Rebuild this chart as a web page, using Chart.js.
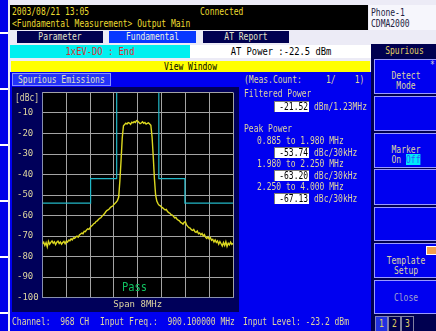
<!DOCTYPE html>
<html>
<head>
<meta charset="utf-8">
<script src="https://cdn.jsdelivr.net/npm/chart.js@4.4.1/dist/chart.umd.min.js"></script>
<style>
  html, body { margin: 0; padding: 0; }
  body { width: 436px; height: 331px; position: relative; overflow: hidden; background: #ecebf6; }
  .box { position: absolute; }
  .t { position: absolute; white-space: pre; font-family: 'DejaVu Sans Mono', monospace; font-size: 10px; line-height: 10px;
       transform: scaleX(0.8); transform-origin: 0 0; }
  .c { left: 0; right: 0; text-align: center; transform-origin: 50% 0; }
  .r { right: 1px; text-align: right; transform-origin: 100% 0; }
  .pale { color: #ddd4a0; }
  .key { position: absolute; left: 374px; width: 62px; background: #0000f0; border: 1px solid #9a9aff; border-right: none; }
  .val { position: absolute; left: 274px; width: 34px; height: 10px; background: #fff; border-top: 1px solid #7a7a7a; border-left: 1px solid #7a7a7a; }
</style>
</head>
<body>
<!-- left side strip -->
<div class="box" style="left:0;top:0;width:8px;height:331px;background:#0000e8"></div>
<div class="box" style="left:0;top:32px;width:8px;height:2px;background:#fff"></div>
<div class="box" style="left:0;top:88px;width:8px;height:2px;background:#fff"></div>
<div class="box" style="left:0;top:144px;width:8px;height:2px;background:#fff"></div>
<div class="box" style="left:0;top:200px;width:8px;height:2px;background:#fff"></div>
<div class="box" style="left:0;top:256px;width:8px;height:2px;background:#fff"></div>
<div class="box" style="left:0;top:312px;width:8px;height:2px;background:#fff"></div>

<!-- header -->
<div class="box" style="left:10px;top:5px;width:358px;height:25px;background:#000"></div>
<div class="t" style="left:12px;top:7px;color:#ecdc30">2003/08/21 13:05</div>
<div class="t" style="left:200px;top:7px;color:#ecdc30">Connected</div>
<div class="t" style="left:12px;top:19px;color:#ecdc30">&lt;Fundamental Measurement&gt; Output Main</div>
<div class="box" style="left:369px;top:5px;width:67px;height:25px;background:#f6f6fc"></div>
<div class="t" style="left:371px;top:8px;color:#202040">Phone-1</div>
<div class="t" style="left:371px;top:19px;color:#202040">CDMA2000</div>

<!-- tabs -->
<div class="box" style="left:17px;top:31px;width:86px;height:12px;background:#000050">
  <div class="t c" style="top:1px;color:#e4e4c8">Parameter</div></div>
<div class="box" style="left:109px;top:31px;width:87px;height:12px;background:#0838ff">
  <div class="t c" style="top:1px;color:#f0f0e0">Fundamental</div></div>
<div class="box" style="left:203px;top:31px;width:86px;height:12px;background:#000050">
  <div class="t c" style="top:1px;color:#e4e4c8">AT Report</div></div>

<!-- status row -->
<div class="box" style="left:10px;top:45px;width:180px;height:13px;background:#00f0f0">
  <div class="t c" style="top:1px;font-size:11px;line-height:11px;color:#d83030">1xEV-DO : End</div></div>
<div class="box" style="left:190px;top:45px;width:182px;height:13px;background:#fff">
  <div class="t c" style="top:1px;font-size:11px;line-height:11px;color:#000">AT Power :-22.5 dBm</div></div>

<!-- softkey column -->
<div class="box" style="left:371px;top:44px;width:65px;height:287px;background:#000050"></div>
<div class="box" style="left:373px;top:45px;width:63px;height:12px">
  <div class="t c" style="top:1px;color:#e0d060">Spurious</div></div>

<div class="key" style="top:59px;height:33px">
  <div class="t" style="left:55px;top:0px;color:#d0d0d0">*</div>
  <div class="t c pale" style="top:11px">Detect</div>
  <div class="t c pale" style="top:21px">Mode</div></div>
<div class="key" style="top:96px;height:33px"></div>
<div class="key" style="top:133px;height:33px">
  <div class="t c pale" style="top:11px">Marker</div>
  <div class="t c pale" style="top:21px">On <span style="background:#00e8f8;color:#3050ff">Off</span></div></div>
<div class="key" style="top:169px;height:34px"></div>
<div class="key" style="top:207px;height:32px"></div>
<div class="key" style="top:243px;height:33px">
  <div class="box" style="left:51px;top:2px;width:10px;height:7px;background:#f0a050;border:1px solid #fff"></div>
  <div class="t c pale" style="top:12px">Template</div>
  <div class="t c pale" style="top:22px">Setup</div></div>
<div class="key" style="top:280px;height:32px">
  <div class="t c" style="top:12px;color:#a0a0d0">Close</div></div>
<div class="box" style="left:375px;top:316px;width:11px;height:14px;background:#2030e0;border:1px solid #8080c0">
  <div class="t c" style="top:2px;color:#e0d060">1</div></div>
<div class="box" style="left:388px;top:316px;width:11px;height:14px;border:1px solid #8080a0">
  <div class="t c" style="top:2px;color:#e0d060">2</div></div>
<div class="box" style="left:401px;top:316px;width:11px;height:14px;border:1px solid #8080a0">
  <div class="t c" style="top:2px;color:#e0d060">3</div></div>

<!-- view window bar -->
<div class="box" style="left:11px;top:61px;width:359px;height:11px;background:#ffff00">
  <div class="t c" style="top:1px;color:#000">View Window</div></div>

<!-- main panel -->
<div class="box" style="left:10px;top:72px;width:361px;height:259px;background:#0000f0"></div>
<div class="box" style="left:12px;top:73px;width:97px;height:11px;background:#2434f8;border:1px solid #8890ff"></div>
<div class="t" style="left:18px;top:75px;color:#e0e0c0">Spurious Emissions</div>
<div class="t pale" style="left:244px;top:75px">(Meas.Count:     1/    1)</div>

<canvas id="spurChart" width="227" height="225" style="position:absolute;left:12px;top:87px;background:#00005a"></canvas>
<div class="t pale" style="left:15px;top:93px">[dBc]</div>
<div class="t" style="left:122px;top:280px;font-size:13px;line-height:13px;color:#10c060">Pass</div>

<div class="t pale" style="left:244px;top:89px">Filtered Power</div>
<div class="val" style="top:101px"><div class="t r" style="top:0;color:#000">-21.52</div></div>
<div class="t pale" style="left:314px;top:102px">dBm/1.23MHz</div>
<div class="t pale" style="left:244px;top:124px">Peak Power</div>
<div class="t pale" style="left:257px;top:136px">0.885 to 1.980 MHz</div>
<div class="val" style="top:147px"><div class="t r" style="top:0;color:#000">-53.74</div></div>
<div class="t pale" style="left:314px;top:148px">dBc/30kHz</div>
<div class="t pale" style="left:257px;top:159px">1.980 to 2.250 MHz</div>
<div class="val" style="top:170px"><div class="t r" style="top:0;color:#000">-63.20</div></div>
<div class="t pale" style="left:314px;top:171px">dBc/30kHz</div>
<div class="t pale" style="left:257px;top:182px">2.250 to 4.000 MHz</div>
<div class="val" style="top:193px"><div class="t r" style="top:0;color:#000">-67.13</div></div>
<div class="t pale" style="left:314px;top:194px">dBc/30kHz</div>

<div class="t pale" style="left:12px;top:317px">Channel:  968 CH</div>
<div class="t pale" style="left:100px;top:317px">Input Freq.:  900.100000 MHz</div>
<div class="t pale" style="left:243px;top:317px">Input Level: -23.2 dBm</div>

<script>
// sweep: span 8 MHz around the carrier, one reading every 0.05 MHz
const sweepStartMHz = -4;
const sweepStepMHz = 0.05;
const spectrumDbc = [
  -73.8, -73.0, -74.6, -73.2, -75.3, -72.6, -74.0, -73.1, -72.4, -73.5,
  -72.8, -74.2, -73.0, -72.5, -73.6, -72.9, -74.0, -73.2, -72.6, -73.7,
  -72.5,
  -73.0, -72.0, -72.3, -71.4, -71.9, -70.9, -71.2, -70.4, -70.1, -70.6,
  -69.5, -69.0, -68.6, -68.9, -67.7, -67.9, -67.0, -66.5, -66.8, -65.9,
  -65.2, -64.8, -64.0, -63.7, -62.9, -62.6, -62.0, -61.4, -61.1, -60.3,
  -59.8, -59.2, -58.3, -57.6, -57.3, -56.8, -56.1, -55.7, -55.4, -54.6,
  -54.0, -53.4, -52.6, -51.0, -43.0, -33.0, -22.0, -16.2,
  // carrier top
  -15.6, -15.0, -15.4, -14.7, -14.9, -15.5, -14.5, -14.8, -14.2, -14.6,
  -13.7, -13.9, -14.6, -15.2, -14.9, -14.3, -15.0, -14.6, -15.4, -15.1,
  -14.8, -15.4, -16.0,
  -21.5, -31.0, -42.0, -50.0, -53.0,
  -54.2, -55.0, -55.3, -55.9, -56.3, -56.8, -57.3, -57.0, -58.1, -58.6,
  -58.9, -59.6, -59.8, -60.4, -61.2, -60.9, -61.8, -62.3, -62.6, -63.4,
  -63.7, -64.2, -63.3, -63.0, -64.6, -65.3, -65.9, -66.1, -66.9, -67.3,
  -66.8, -67.9, -68.2, -67.6, -68.9, -68.5, -69.4, -68.8, -70.0, -69.3,
  -70.6, -71.2, -70.4, -71.5, -70.8, -72.1, -71.6, -72.9, -71.9, -73.1,
  -72.4, -74.0, -72.7, -73.8, -74.9, -73.2, -74.6, -72.8, -75.1, -73.5,
  -74.3, -73.0, -74.1, -73.6
];

// limit template (teal)
const templateMHz = [-4, -1.98, -1.98, -0.885, -0.885, 0, 0.885, 0.885, 1.98, 1.98, 4];
const templateDbc = [-54, -54, -42, -42, 0, null, 0, -42, -42, -54, -54];

const monoFont = "'DejaVu Sans Mono', monospace";
const paleText = '#ddd4a0';
const gridGray = '#a4a4a4';

const plotBackground = {
  id: 'plotBackground',
  beforeDraw(chart) {
    const a = chart.chartArea;
    chart.ctx.save();
    chart.ctx.fillStyle = '#000';
    chart.ctx.fillRect(a.left, a.top, a.right - a.left, a.bottom - a.top);
    chart.ctx.restore();
  }
};

const ctx = document.getElementById('spurChart').getContext('2d');

const spurChart = new Chart(ctx, {
  type: 'line',
  data: {
    datasets: [{
      data: templateMHz.map((f, i) => ({ x: f, y: templateDbc[i] })),
      borderColor: '#22b8c8',
      borderWidth: 1.2,
      pointRadius: 0,
      spanGaps: false
    }, {
      data: spectrumDbc.map((v, i) => ({ x: sweepStartMHz + i * sweepStepMHz, y: v })),
      borderColor: '#dcd820',
      borderWidth: 1.4,
      pointRadius: 0
    }]
  },
  options: {
    responsive: false,
    animation: false,
    devicePixelRatio: 1,
    events: [],
    layout: { padding: { left: 5, top: 5.5, right: 6, bottom: 0 } },
    plugins: { legend: { display: false }, tooltip: { enabled: false } },
    scales: {
      x: {
        type: 'linear',
        min: -4,
        max: 4,
        ticks: { stepSize: 1, display: false },
        grid: { color: gridGray, drawTicks: false },
        border: { color: '#8890b0' },
        title: {
          display: true,
          text: 'Span 8MHz',
          color: paleText,
          font: { family: monoFont, size: 9 },
          padding: { top: 0, bottom: 2 }
        },
        afterFit(scale) { scale.height = 14.5; }
      },
      y: {
        min: -100,
        max: 0,
        ticks: {
          stepSize: 10,
          crossAlign: 'far',
          padding: 0,
          color: paleText,
          font: { family: monoFont, size: 9 },
          callback: v => (v === 0 ? '' : v)
        },
        grid: { color: gridGray, drawTicks: false },
        border: { color: '#8890b0' },
        afterFit(scale) { scale.width = 25.5; }
      }
    }
  },
  plugins: [plotBackground]
});
</script>
</body>
</html>
